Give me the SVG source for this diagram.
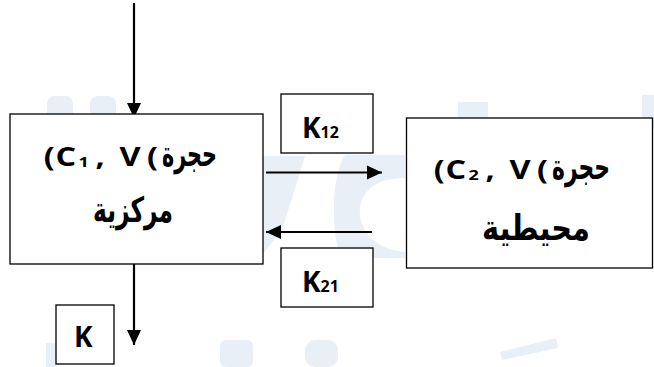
<svg xmlns="http://www.w3.org/2000/svg" width="654" height="367" viewBox="0 0 654 367">
<style>
.box{fill:#ffffff;stroke:#000000;stroke-width:1.3}
.wm{fill:#e9eff6}
.con{stroke:#000000;stroke-width:2.2;fill:none}
.lat{font-family:"Open Sans",Lato,"Liberation Sans",sans-serif;font-weight:700;fill:#000000;font-size:28px}
.cv{font-family:"Open Sans",Lato,"Liberation Sans",sans-serif;font-weight:700;fill:#000000;font-size:27px}
.sub{font-size:15px}
.ar{font-family:"DejaVu Sans","Noto Sans",sans-serif;font-weight:bold;fill:#000000;font-size:35px}
</style>
<defs>
<marker id="ah" markerUnits="userSpaceOnUse" markerWidth="16" markerHeight="16" viewBox="0 0 16 16" refX="15" refY="8" orient="auto">
<path d="M0,1 L15,8 L0,15 Z" fill="#000000"/>
</marker>
</defs>
<rect width="654" height="367" fill="#ffffff"/>
<g id="watermark">
<rect class="wm" x="47" y="96" width="26" height="30" rx="8"/>
<rect class="wm" x="90" y="96" width="26" height="30" rx="8"/>
<rect class="wm" x="458" y="102" width="30" height="34"/>
<rect class="wm" x="642" y="95" width="12" height="35"/>
<polygon class="wm" points="262,156 305,156 282,230 262,255"/>
<path class="wm" d="M345,155 L405,155 L405,178 C372,178 358,195 360,215 C362,235 380,250 405,252 L405,258 L340,258 C332,230 330,180 345,155 Z"/>
<rect class="wm" x="220" y="340" width="33" height="27" rx="6"/>
<rect class="wm" x="305" y="340" width="33" height="27" rx="10"/>
<polygon class="wm" points="500,352 556,338 558,348 502,360"/>
<rect class="wm" x="46" y="343" width="10" height="24"/>
</g>
<g id="connectors">
<line class="con" x1="134" y1="3" x2="134" y2="118" marker-end="url(#ah)"/>
<line class="con" x1="134" y1="227" x2="134" y2="345" marker-end="url(#ah)"/>
<line class="con" x1="266" y1="172.5" x2="382" y2="172.5" marker-end="url(#ah)"/>
<line class="con" x1="372" y1="232" x2="266" y2="232" marker-end="url(#ah)"/>
</g>
<g id="central">
<rect class="box" x="10" y="114" width="253" height="150"/>
<text class="cv" direction="ltr" transform="translate(0,166) scale(1.2,1)"><tspan x="36.5">&#x200E;(</tspan><tspan x="46.2">C</tspan><tspan class="sub" x="65.5" dy="1">1</tspan><tspan x="79.5" dy="-1">,</tspan><tspan x="99.5">V</tspan><tspan x="122.5">(&#x200E;</tspan></text>
<text class="ar" x="189.5" y="166" text-anchor="middle" textLength="55" lengthAdjust="spacingAndGlyphs">حجرة</text>
<text class="ar" x="133" y="222" text-anchor="middle" textLength="80" lengthAdjust="spacingAndGlyphs">مركزية</text>
</g>
<g id="peripheral">
<rect class="box" x="406.5" y="118" width="246" height="150"/>
<text class="cv" direction="ltr" transform="translate(390,179) scale(1.2,1)"><tspan x="36.5">&#x200E;(</tspan><tspan x="46.2">C</tspan><tspan class="sub" x="65.5" dy="1">2</tspan><tspan x="79.5" dy="-1">,</tspan><tspan x="99.5">V</tspan><tspan x="122.5">(&#x200E;</tspan></text>
<text class="ar" x="581" y="179" text-anchor="middle" textLength="58" lengthAdjust="spacingAndGlyphs">حجرة</text>
<text class="ar" x="536" y="240" text-anchor="middle" textLength="108" lengthAdjust="spacingAndGlyphs">محيطية</text>
</g>
<g id="k12">
<rect class="box" x="281" y="94" width="92" height="59"/>
<text class="lat" x="302" y="138">K<tspan font-size="16">12</tspan></text>
</g>
<g id="k21">
<rect class="box" x="281" y="248" width="92" height="59"/>
<text class="lat" x="302" y="292">K<tspan font-size="16">21</tspan></text>
</g>
<g id="k">
<rect class="box" x="56" y="305" width="58" height="59"/>
<text class="lat" x="74" y="347">K</text>
</g>
</svg>
